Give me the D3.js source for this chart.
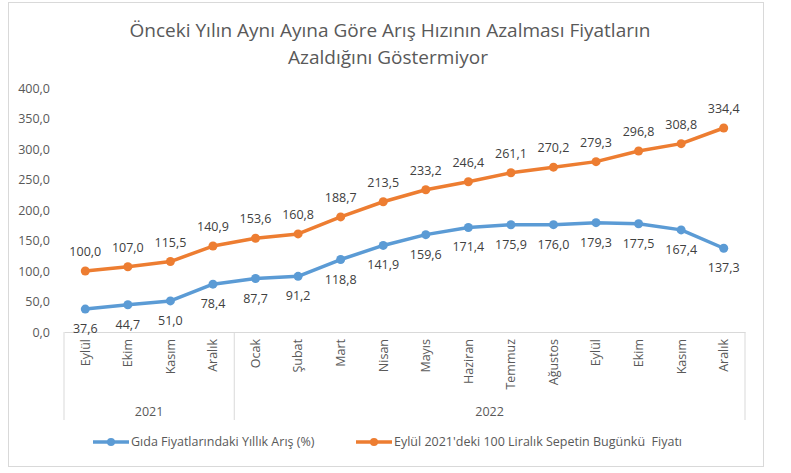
<!DOCTYPE html>
<html>
<head>
<meta charset="utf-8">
<script src="https://cdn.jsdelivr.net/npm/d3@7"></script>
<style>
  body { margin: 0; background: #fff; }
  text { font-family: "Open Sans", "Noto Sans", sans-serif; }
</style>
</head>
<body>
<div id="chart"></div>
<script>
const months = ["Eylül", "Ekim", "Kasım", "Aralık", "Ocak", "Şubat", "Mart", "Nisan", "Mayıs",
  "Haziran", "Temmuz", "Ağustos", "Eylül", "Ekim", "Kasım", "Aralık"]
const years = [
  { year: "2021", start: 0, end: 3 },
  { year: "2022", start: 4, end: 15 }
]
const foodIncrease = [37.6, 44.7, 51.0, 78.4, 87.7, 91.2, 118.8, 141.9, 159.6, 171.4, 175.9, 176.0, 179.3, 177.5, 167.4, 137.3]
const basketPrice = [100.0, 107.0, 115.5, 140.9, 153.6, 160.8, 188.7, 213.5, 233.2, 246.4, 261.1, 270.2, 279.3, 296.8, 308.8, 334.4]
const yTicks = [0, 50, 100, 150, 200, 250, 300, 350, 400]
const seriesNames = ["Gıda Fiyatlarındaki Yıllık Arış (%)", "Eylül 2021'deki 100 Liralık Sepetin Bugünkü  Fiyatı"]

const W = 791, H = 473
const MARGIN = { TOP: 88, BOTTOM: 141, LEFT: 64, RIGHT: 46 }
const WIDTH = W - MARGIN.LEFT - MARGIN.RIGHT
const HEIGHT = H - MARGIN.TOP - MARGIN.BOTTOM

const BLUE = "#5B9BD5", ORANGE = "#ED7D31", GREY = "#595959"

const tr = d3.formatLocale({ decimal: ",", thousands: ".", grouping: [3], currency: ["", " TL"] })
const fmt = tr.format(".1f")

const svg = d3.select("#chart").append("svg")
  .attr("width", W).attr("height", H)

// outer frame
svg.append("rect")
  .attr("x", 8.5).attr("y", 2.5).attr("width", 755).attr("height", 464)
  .attr("fill", "#fff").attr("stroke", "#d9d9d9")

// title
svg.append("text")
  .attr("x", 390).attr("y", 37)
  .attr("text-anchor", "middle").attr("font-size", 19).attr("fill", GREY)
  .text("Önceki Yılın Aynı Ayına Göre Arış Hızının Azalması Fiyatların")
svg.append("text")
  .attr("x", 388).attr("y", 64)
  .attr("text-anchor", "middle").attr("font-size", 19).attr("fill", GREY)
  .text("Azaldığını Göstermiyor")

const g = svg.append("g").attr("transform", `translate(${MARGIN.LEFT}, ${MARGIN.TOP})`)

const idx = d3.range(months.length)
const x = d3.scaleBand().domain(idx).range([0, WIDTH])
const cx = i => x(i) + x.bandwidth() / 2
const y = d3.scaleLinear().domain([0, 400]).range([HEIGHT, 0])

// y axis, labels only
const yAxis = g.append("g").call(d3.axisLeft(y).tickValues(yTicks).tickFormat(fmt).tickSize(0).tickPadding(14))
yAxis.select(".domain").remove()
yAxis.selectAll("text").attr("font-size", 12.5).attr("fill", GREY)
  .style("font-family", "'Open Sans', sans-serif")

// x axis with month labels
const xAxis = g.append("g").attr("transform", `translate(0, ${HEIGHT})`)
  .call(d3.axisBottom(x).tickFormat(i => months[i]).tickSize(0))
xAxis.select(".domain").attr("stroke", "#d9d9d9")
xAxis.selectAll("text")
  .attr("transform", "rotate(-90)")
  .attr("text-anchor", "end")
  .attr("x", -7).attr("y", 0).attr("dy", "0.35em")
  .attr("font-size", 12.5).attr("fill", GREY)
  .style("font-family", "'Open Sans', sans-serif")

// year group separators and labels
const sepX = [0, ...years.map(d => x(d.end) + x.bandwidth())]
g.selectAll(".sep").data(sepX).enter().append("line")
  .attr("x1", d => d).attr("x2", d => d)
  .attr("y1", HEIGHT).attr("y2", HEIGHT + 88)
  .attr("stroke", "#d9d9d9")
g.selectAll(".year").data(years).enter().append("text")
  .attr("x", d => (x(d.start) + x(d.end) + x.bandwidth()) / 2)
  .attr("y", HEIGHT + 84)
  .attr("text-anchor", "middle").attr("font-size", 12.5).attr("fill", GREY)
  .text(d => d.year)

// lines
const line = d3.line().x((d, i) => cx(i)).y(d => y(d))
const series = [
  { name: seriesNames[0], values: foodIncrease, color: BLUE, dy: 24 },
  { name: seriesNames[1], values: basketPrice, color: ORANGE, dy: -15 }
]
series.forEach(s => {
  g.append("path").datum(s.values)
    .attr("d", line).attr("fill", "none")
    .attr("stroke", s.color).attr("stroke-width", 3.5).attr("stroke-linejoin", "round")
  g.selectAll(null).data(s.values).enter().append("circle")
    .attr("cx", (d, i) => cx(i)).attr("cy", d => y(d))
    .attr("r", 4.5).attr("fill", s.color)
  g.selectAll(null).data(s.values).enter().append("text")
    .attr("x", (d, i) => cx(i)).attr("y", d => y(d) + s.dy)
    .attr("text-anchor", "middle").attr("font-size", 12.5).attr("fill", "#404040")
    .text(d => fmt(d))
})

// legend
const legend = svg.append("g").attr("transform", "translate(0, 442)")
const legX = [93, 356]
series.forEach((s, i) => {
  const lg = legend.append("g").attr("transform", `translate(${legX[i]}, 0)`)
  lg.append("line").attr("x1", 0).attr("x2", 36).attr("y1", 0).attr("y2", 0)
    .attr("stroke", s.color).attr("stroke-width", 3.5)
  lg.append("circle").attr("cx", 18).attr("cy", 0).attr("r", 4).attr("fill", s.color)
  lg.append("text").attr("x", 38).attr("y", 0).attr("dy", "0.35em")
    .style("white-space", "pre")
    .attr("font-size", 12.5).attr("fill", GREY).text(s.name)
})
</script>
</body>
</html>
